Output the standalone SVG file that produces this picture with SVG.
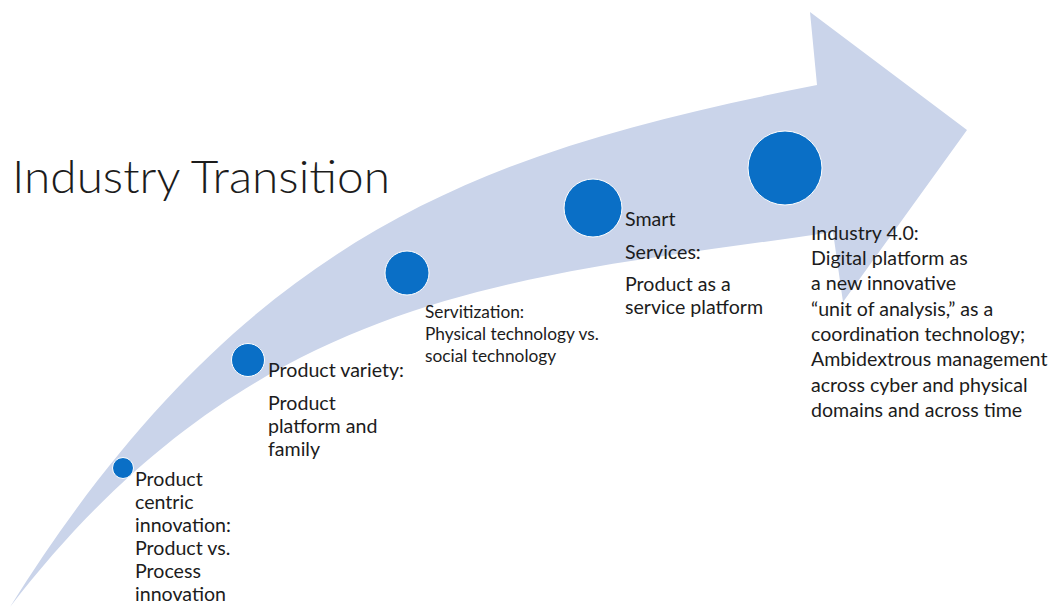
<svg xmlns="http://www.w3.org/2000/svg" width="1052" height="611" viewBox="0 0 1052 611">
<style>
.dot{fill:#0A6FC6;stroke:#ffffff;stroke-width:1}
.lbl{font-family:Lato,"Liberation Sans",sans-serif;font-size:19.6px;fill:#1c1c1c}
.sm{font-size:17.3px}
.title{font-family:Lato,"Liberation Sans",sans-serif;font-weight:300;font-size:46px;fill:#1c1c1c}
</style>
<rect width="1052" height="611" fill="#ffffff"/>
<g id="connectors">
<path id="arrow" fill="#CAD4EA" d="M10,607 C250,223 497,149 817,85 L810,12 L967,130 L843,302 L833,232 C533,277 260,282 10,607 Z"/>
</g>
<text class="title" x="12" y="193" textLength="378" lengthAdjust="spacingAndGlyphs">Industry Transition</text>
<g id="node1">
<circle class="dot" cx="123" cy="468" r="10.5"/>
<text class="lbl"><tspan x="135" y="486">Product</tspan><tspan x="135" y="509">centric</tspan><tspan x="135" y="532">innovation:</tspan><tspan x="135" y="555">Product vs.</tspan><tspan x="135" y="578">Process</tspan><tspan x="135" y="601">innovation</tspan></text>
</g>
<g id="node2">
<circle class="dot" cx="248" cy="360" r="16.5"/>
<text class="lbl"><tspan x="268" y="377">Product variety:</tspan><tspan x="268" y="410">Product</tspan><tspan x="268" y="433">platform and</tspan><tspan x="268" y="456">family</tspan></text>
</g>
<g id="node3">
<circle class="dot" cx="407" cy="273" r="22"/>
<text class="lbl sm"><tspan x="425" y="318">Servitization:</tspan><tspan x="425" y="340">Physical technology vs.</tspan><tspan x="425" y="362">social technology</tspan></text>
</g>
<g id="node4">
<circle class="dot" cx="593" cy="208" r="29"/>
<text class="lbl"><tspan x="625" y="226">Smart</tspan><tspan x="625" y="259">Services:</tspan><tspan x="625" y="291">Product as a</tspan><tspan x="625" y="314">service platform</tspan></text>
</g>
<g id="node5">
<circle class="dot" cx="785" cy="168" r="37"/>
<text class="lbl"><tspan x="811" y="240">Industry 4.0:</tspan><tspan x="811" y="265">Digital platform as</tspan><tspan x="811" y="290">a new innovative</tspan><tspan x="811" y="316">“unit of analysis,” as a</tspan><tspan x="811" y="341">coordination technology;</tspan><tspan x="811" y="366">Ambidextrous management</tspan><tspan x="811" y="392">across cyber and physical</tspan><tspan x="811" y="417">domains and across time</tspan></text>
</g>
</svg>
